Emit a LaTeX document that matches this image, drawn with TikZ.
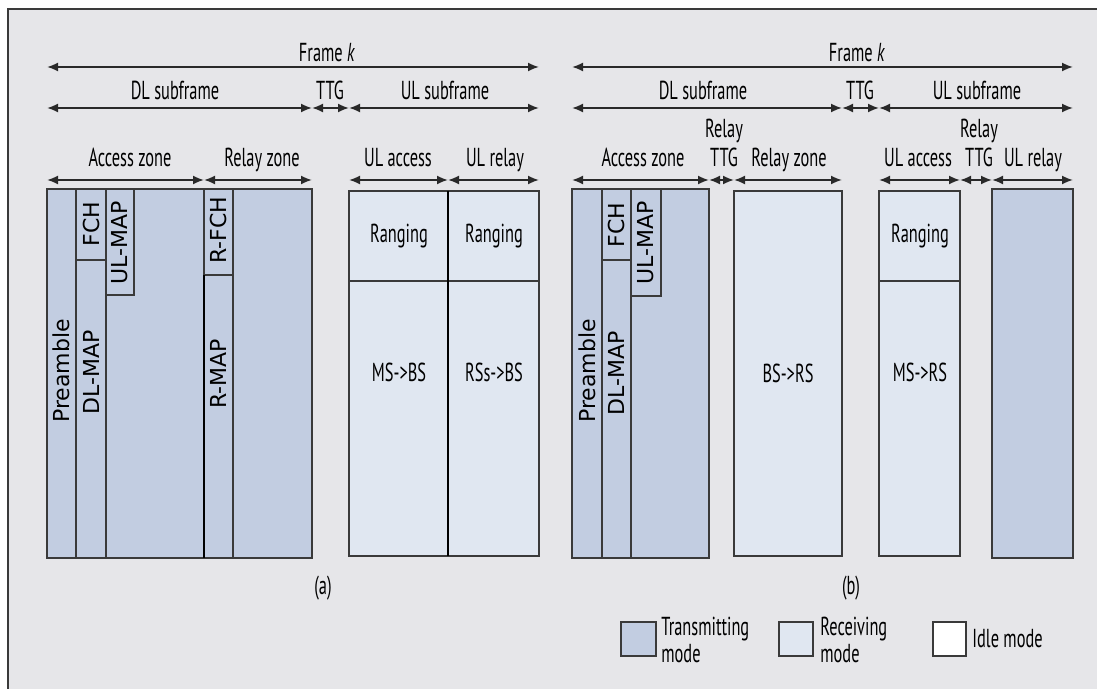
\documentclass[tikz,border=0pt]{standalone}
\usepackage{fontspec}
\usetikzlibrary{arrows.meta}
\newfontfamily\condfont[FakeStretch=0.63]{PT Sans}
\newfontfamily\slotfont{DejaVu Sans}
\definecolor{bggray}{RGB}{230,230,233}
\definecolor{txblue}{RGB}{194,205,225}
\definecolor{rxblue}{RGB}{224,231,241}
\definecolor{edgegray}{RGB}{58,58,58}

\begin{document}
\begin{tikzpicture}[x=0.5pt, y=-0.5pt,
    lbl/.style={font=\condfont\fontsize{13}{13.5}\selectfont, anchor=base, inner sep=0pt},
    cell/.style={font=\condfont\fontsize{13}{13.5}\selectfont, inner sep=0pt},
    slot/.style={font=\slotfont\fontsize{11}{12}\selectfont, rotate=90, inner sep=0pt},
    span/.style={{Latex[length=5.5pt,width=4.5pt]}-{Latex[length=5.5pt,width=4.5pt]}, line width=0.9pt, edgegray!70!black},
    tx/.style={fill=txblue, draw=edgegray, line width=1pt},
    rx/.style={fill=rxblue, draw=edgegray, line width=1pt},
    sep/.style={draw=edgegray, line width=1pt},
    cut/.style={line width=1.3pt, black}]
    \useasboundingbox (0,0) rectangle (1097,689);
    \fill[white] (0,0) rectangle (1097,689);

    % Frame and background
    \fill[bggray] (8,9) rectangle (1097,689);
    \draw[edgegray, line width=1pt] (1097,9) -- (8,9) -- (8,689);

    % (a) Frame and subframes
    \draw[span] (47,67) -- (539,67);
    \node[lbl] (frameA) at (327,62) {Frame \textit{k}};
    \draw[span] (47,108) -- (312,108);
    \draw[span] (312,108) -- (349,108);
    \draw[span] (349,108) -- (539,108);
    \node[lbl] (dlA) at (175,100) {DL subframe};
    \node[lbl] (ttgA) at (330,100) {TTG};
    \node[lbl] (ulA) at (445,100) {UL subframe};

    % (a) Zones
    \draw[span] (47,180) -- (204,180);
    \draw[span] (204,180) -- (312,180);
    \draw[span] (349,180) -- (448,180);
    \draw[span] (448,180) -- (539,180);
    \node[lbl] (accA) at (130,167) {Access zone};
    \node[lbl] (relA) at (262,167) {Relay zone};
    \node[lbl] (ulaccA) at (398,167) {UL access};
    \node[lbl] (ulrelA) at (495,167) {UL relay};

    % (a) DL bursts
    \filldraw[tx] (47,189) rectangle (204,558);
    \filldraw[tx] (204,189) rectangle (312,558);
    \draw[sep] (76,189) -- (76,558);
    \draw[sep] (106,189) -- (106,558);
    \draw[sep] (76,260) -- (106,260);
    \draw[sep] (134,189) -- (134,295) -- (106,295);
    \draw[sep] (233,189) -- (233,558);
    \draw[sep] (204,275) -- (233,275);
    \draw[cut] (204,275) -- (204,558);
    \node[slot] (preA) at (61,371) {Preamble};
    \node[slot] (dlmapA) at (91,372) {DL-MAP};
    \node[slot] (fchA) at (91,224) {FCH};
    \node[slot] (ulmapA) at (120,243) {UL-MAP};
    \node[slot] (rfchA) at (218,230) {R-FCH};
    \node[slot] (rmapA) at (218,374) {R-MAP};

    % (a) UL bursts
    \filldraw[rx] (349,191) rectangle (539,556);
    \draw[sep] (349,281) -- (539,281);
    \draw[cut] (448,191) -- (448,556);
    \node[cell] (rngA1) at (399,236) {Ranging};
    \node[cell] (rngA2) at (494,236) {Ranging};
    \node[cell] (msbsA) at (399,372) {MS->BS};
    \node[cell] (rsbsA) at (494,372) {RSs->BS};
    \node[cell] (capA) at (323,588) {(a)};

    % (b) Frame and subframes
    \draw[span] (572,67) -- (1073,67);
    \node[lbl] (frameB) at (857,62) {Frame \textit{k}};
    \draw[span] (572,108) -- (842,108);
    \draw[span] (842,108) -- (879,108);
    \draw[span] (879,108) -- (1073,108);
    \node[lbl] (dlB) at (703,100) {DL subframe};
    \node[lbl] (ttgB) at (860,100) {TTG};
    \node[lbl] (ulB) at (977,100) {UL subframe};

    % (b) Zones
    \draw[span] (572,180) -- (709,180);
    \draw[span] (709,180) -- (734,180);
    \draw[span] (734,180) -- (842,180);
    \draw[span] (879,180) -- (960,180);
    \draw[span] (960,180) -- (992,180);
    \draw[span] (992,180) -- (1073,180);
    \node[lbl] (accB) at (643,167) {Access zone};
    \node[lbl] (rttgB1) at (724,138) {Relay};
    \node[lbl] (rttgB2) at (724,167) {TTG};
    \node[lbl] (relB) at (789,167) {Relay zone};
    \node[lbl] (ulaccB) at (918,167) {UL access};
    \node[lbl] (rttgB3) at (979,138) {Relay};
    \node[lbl] (rttgB4) at (979,167) {TTG};
    \node[lbl] (ulrelB) at (1033,167) {UL relay};

    % (b) Bursts
    \filldraw[tx] (572,189) rectangle (709,558);
    \draw[sep] (602,189) -- (602,558);
    \draw[sep] (631,189) -- (631,558);
    \draw[sep] (602,260) -- (631,260);
    \draw[sep] (661,189) -- (661,296) -- (631,296);
    \node[slot] (preB) at (587,371) {Preamble};
    \node[slot] (dlmapB) at (616,373) {DL-MAP};
    \node[slot] (fchB) at (616,225) {FCH};
    \node[slot] (ulmapB) at (646,243) {UL-MAP};
    \filldraw[rx] (734,191) rectangle (842,556);
    \node[cell] (bsrsB) at (788,373) {BS->RS};
    \filldraw[rx] (879,191) rectangle (960,556);
    \draw[sep] (879,281) -- (960,281);
    \node[cell] (rngB) at (920,236) {Ranging};
    \node[cell] (msrsB) at (920,372) {MS->RS};
    \filldraw[tx] (992,189) rectangle (1073,558);
    \node[cell] (capB) at (851,588) {(b)};

    % Legend
    \filldraw[tx] (621,622) rectangle (656,656);
    \node[cell, anchor=west, align=left] (legTx) at (661,640) {Transmitting\\mode};
    \filldraw[rx] (779,622) rectangle (813,656);
    \node[cell, anchor=west, align=left] (legRx) at (820,640) {Receiving\\mode};
    \filldraw[fill=white, draw=edgegray, line width=1pt] (933,622) rectangle (966,656);
    \node[cell, anchor=west] (legIdle) at (972,639) {Idle mode};
\end{tikzpicture}
\end{document}
